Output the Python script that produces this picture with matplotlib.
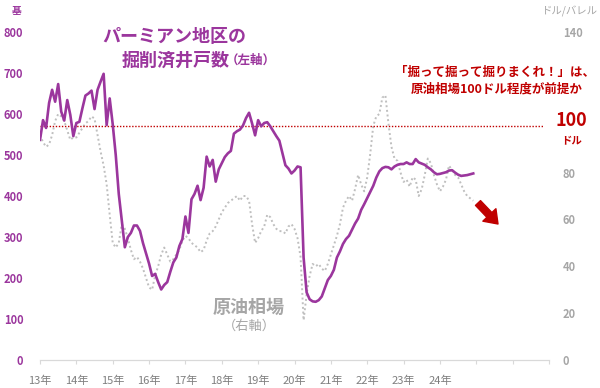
import numpy as np
import matplotlib
matplotlib.use('Agg')
import matplotlib.pyplot as plt

plt.rcParams['font.family'] = ['Noto Sans CJK JP', 'DejaVu Sans']

# 月次データ (2013年1月〜2024年12月)
wells = (
    [537, 585, 566, 627, 659, 630, 673, 606, 584, 634, 598, 546] +   # 2013
    [578, 581, 614, 645, 650, 657, 612, 659, 679, 698, 573, 638] +   # 2014
    [575, 500, 405, 340, 275, 300, 310, 328, 328, 315, 285, 260] +   # 2015
    [235, 205, 210, 190, 172, 183, 190, 215, 238, 250, 278, 295] +   # 2016
    [350, 310, 392, 405, 425, 390, 420, 496, 472, 488, 435, 465] +   # 2017
    [480, 495, 504, 510, 552, 558, 562, 572, 590, 603, 577, 548] +   # 2018
    [585, 570, 578, 580, 570, 558, 546, 535, 505, 475, 467, 455] +   # 2019
    [462, 472, 470, 250, 165, 148, 143, 142, 146, 155, 175, 195] +   # 2020
    [205, 220, 250, 265, 283, 295, 303, 318, 333, 345, 366, 380] +   # 2021
    [395, 410, 425, 445, 460, 468, 471, 470, 465, 472, 476, 478] +   # 2022
    [478, 482, 478, 478, 490, 482, 479, 476, 470, 465, 458, 453] +   # 2023
    [454, 456, 458, 462, 463, 457, 452, 449, 450, 451, 453, 455]     # 2024
)
oil = (
    [96, 93, 91, 92, 96, 102, 105, 104, 102, 98, 94, 95] +
    [95, 97, 99, 101, 102, 104, 103, 96, 89, 83, 75, 62] +
    [50, 48, 50, 58, 56, 52, 47, 43, 44, 42, 39, 35] +
    [31, 30, 36, 40, 45, 48, 45, 42, 43, 45, 47, 51] +
    [53, 52, 50, 49, 48, 46, 47, 51, 54, 55, 57, 60] +
    [63, 65, 67, 68, 69, 70, 68, 70, 70, 68, 58, 50] +
    [52, 55, 57, 62, 61, 58, 56, 55, 55, 54, 57, 58] +
    [56, 52, 44, 17, 28, 36, 41, 40, 41, 39, 38, 41] +
    [45, 49, 53, 58, 65, 68, 70, 68, 73, 79, 75, 72] +
    [78, 88, 100, 104, 105, 112, 113, 101, 91, 86, 85, 80] +
    [76, 77, 74, 78, 77, 70, 73, 79, 86, 84, 79, 75] +
    [72, 74, 77, 83, 81, 79, 78, 75, 72, 70, 69, 68]
)
year_labels = ['13年', '14年', '15年', '16年', '17年', '18年', '19年', '20年',
               '21年', '22年', '23年', '24年']
left_ticks = [0, 100, 200, 300, 400, 500, 600, 700, 800]
right_ticks = [0, 20, 40, 60, 80, 140]

PURPLE = '#9B369D'
GREY = '#A6A6A6'
RED = '#C00000'

months = np.arange(len(wells))

fig = plt.figure(figsize=(6, 3.88), dpi=100)
ax = fig.add_axes([40/600, 1-360/388, 509/600, 328/388])
ax2 = ax.twinx()

ax2.plot(months, oil, color='#BFBFBF', lw=1.4, ls=(0, (1, 1.4)))
ax.plot(months, wells, color=PURPLE, lw=1.9, solid_joinstyle='round')
ax.set_zorder(ax2.get_zorder() + 1)
ax.patch.set_visible(False)

ax2.axhline(100, xmin=0, xmax=0.99, color=RED, lw=1, ls=(0, (1, 1.2)))

ax.set_xlim(0, 168)
ax.set_ylim(0, 800)
ax2.set_ylim(0, 140)

ax.set_xticks(np.arange(0, 169, 12))
ax.set_xticklabels(year_labels + [''] * 3, fontsize=8, color='#7F7F7F')
ax.tick_params(axis='x', length=3, color='#D9D9D9', pad=8)

ax.set_yticks(left_ticks)
ax.set_yticklabels([str(v) for v in left_ticks], fontsize=8, color=PURPLE,
                   fontweight='bold')
ax.tick_params(axis='y', length=0, pad=12)

ax2.set_yticks(right_ticks)
ax2.set_yticklabels([str(v) for v in right_ticks], fontsize=8, color=GREY,
                    fontweight='bold')
ax2.tick_params(axis='y', length=0, pad=10)

for a in (ax, ax2):
    for s in ('top', 'left', 'right'):
        a.spines[s].set_visible(False)
    a.spines['bottom'].set_color('#D9D9D9')

# テキスト
fig.text(17/600, 1-11/388, '基', fontsize=7, color=PURPLE, fontweight='bold',
         ha='center', va='center')
fig.text(570/600, 1-11/388, 'ドル/バレル', fontsize=7.5, color=GREY,
         ha='center', va='center')
fig.text(102/600, 1-37/388, 'パーミアン地区の', fontsize=13, color=PURPLE,
         fontweight='bold', ha='left', va='center')
fig.text(122/600, 1-60/388, '掘削済井戸数', fontsize=13, color=PURPLE,
         fontweight='bold', ha='left', va='center')
fig.text(226/600, 1-60/388, '（左軸）', fontsize=9, color=PURPLE,
         fontweight='bold', ha='left', va='center')
fig.text(495/600, 1-72/388, '「掘って掘って掘りまくれ！」は、', fontsize=9,
         color=RED, fontweight='bold', ha='center', va='center')
fig.text(497/600, 1-89/388, '原油相場100ドル程度が前提か', fontsize=9,
         color=RED, fontweight='bold', ha='center', va='center')
fig.text(571/600, 1-121/388, '100', fontsize=13, color=RED,
         fontweight='bold', ha='center', va='center')
fig.text(572/600, 1-140/388, 'ドル', fontsize=7.5, color=RED,
         fontweight='bold', ha='center', va='center')
fig.text(249/600, 1-307/388, '原油相場', fontsize=13, color=GREY,
         fontweight='bold', ha='center', va='center')
fig.text(249/600, 1-326/388, '（右軸）', fontsize=9.5, color=GREY,
         ha='center', va='center')

# 矢印
ax.annotate('', xy=(498/600, 1-224/388), xytext=(478/600, 1-203/388),
            xycoords='figure fraction', textcoords='figure fraction',
            arrowprops=dict(arrowstyle='simple,head_width=1.3,head_length=0.9,tail_width=0.5',
                            color=RED, mutation_scale=10, shrinkA=0, shrinkB=0))

plt.savefig('out.png', dpi=100)
